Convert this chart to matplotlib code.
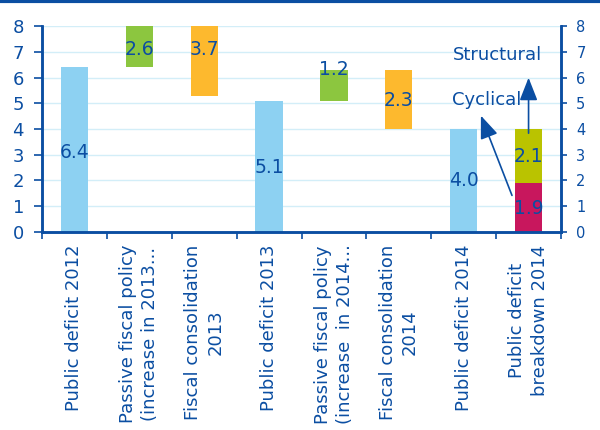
import matplotlib
matplotlib.use("Agg")
import matplotlib.pyplot as plt
from matplotlib.lines import Line2D

# categories and waterfall pieces
categories = ["Public deficit 2012",
              "Passive fiscal policy\n(increase in 2013...",
              "Fiscal consolidation\n2013",
              "Public deficit 2013",
              "Passive fiscal policy\n(increase  in 2014...",
              "Fiscal consolidation\n2014",
              "Public deficit 2014",
              "Public deficit\nbreakdown 2014"]
bottoms = [0, 6.4, 5.3, 0, 5.1, 4.0, 0, 0]
heights = [6.4, 2.6, 3.7, 5.1, 1.2, 2.3, 4.0, 1.9]
labels = ["6.4", "2.6", "3.7", "5.1", "1.2", "2.3", "4.0", "1.9"]
label_y = [3.1, 7.1, 7.1, 2.5, 6.3, 5.1, 2.0, 0.9]
structural = 2.1
structural_label_y = 2.95

blue_txt = "#0b4ea2"
colors = ["#8dd1f2", "#8cc63f", "#fdb92e", "#8dd1f2", "#8cc63f",
          "#fdb92e", "#8dd1f2", "#c8175d"]

fig = plt.figure(figsize=(6, 4.3), dpi=100)
fig.add_artist(Line2D([0, 1], [0.997, 0.997], color=blue_txt, lw=3))
ax = fig.add_axes([0.07, 0.4605, 0.865, 0.479])

x = list(range(len(categories)))
ax.bar(x, heights, bottom=bottoms, width=0.42, color=colors, zorder=2)
ax.bar(x[-1], structural, bottom=heights[-1], width=0.42, color="#bac300", zorder=2)

for i in x:
    ax.text(i, label_y[i], labels[i], ha="center", va="center",
            fontsize=13.5, color=blue_txt, zorder=3)
ax.text(x[-1], structural_label_y, "2.1", ha="center", va="center",
        fontsize=13.5, color=blue_txt, zorder=3)

# annotations
ax.text(6.52, 6.87, "Structural", ha="center", va="center", fontsize=13, color=blue_txt)
ax.text(6.35, 5.13, "Cyclical", ha="center", va="center", fontsize=13, color=blue_txt)
ax.annotate("", xy=(7, 6.1), xytext=(7, 3.73),
            arrowprops=dict(arrowstyle="-|>,head_length=1.4,head_width=0.55",
                            color=blue_txt, lw=1.2))
ax.annotate("", xy=(6.25, 4.62), xytext=(6.76, 1.32),
            arrowprops=dict(arrowstyle="-|>,head_length=1.4,head_width=0.55",
                            color=blue_txt, lw=1.2))

ax.set_ylim(0, 8)
ax.set_xlim(-0.5, len(categories) - 0.5)
ax.set_yticks(range(9))
ax.yaxis.grid(True, color="#d3eef8", lw=1, zorder=0)
ax.set_axisbelow(True)

ax.set_xticks(x)
ax.set_xticklabels(categories, rotation=90, ha="center", va="top",
                   fontsize=13, color=blue_txt, linespacing=1.3)
ax.set_xticks([i - 0.5 for i in x] + [len(x) - 0.5], minor=True)
ax.tick_params(axis="x", which="major", length=0, pad=9)
ax.tick_params(axis="x", which="minor", length=5, width=1.2, color=blue_txt)
ax.tick_params(axis="y", length=6, width=1.2, color=blue_txt,
               labelcolor=blue_txt, labelsize=13, pad=7)

ax2 = ax.twinx()
ax2.set_ylim(0, 8)
ax2.set_yticks(range(9))
ax2.tick_params(axis="y", length=4, width=1.2, color=blue_txt,
                labelcolor=blue_txt, labelsize=10.5, pad=7)

for a in (ax, ax2):
    a.spines["top"].set_visible(False)
    for s in ("left", "right", "bottom"):
        a.spines[s].set_color(blue_txt)
        a.spines[s].set_linewidth(1.8)

fig.savefig("out.png", dpi=100)
